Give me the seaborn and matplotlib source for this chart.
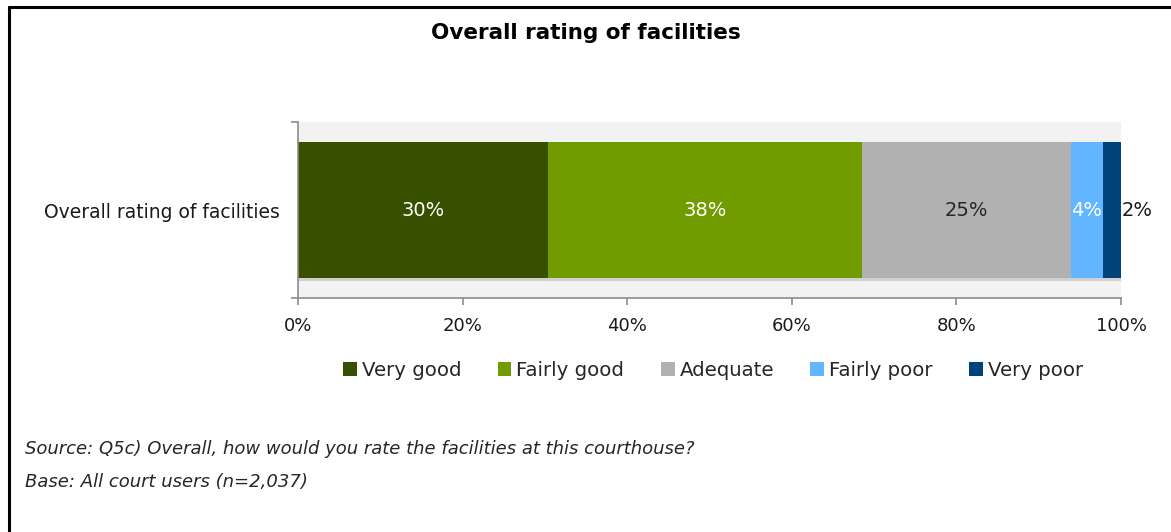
import matplotlib
matplotlib.use("Agg")
import matplotlib.pyplot as plt
import matplotlib.patheffects as pe
from matplotlib.patches import Patch
import numpy as np
import pandas as pd
import seaborn as sns

# Survey results: overall rating of court facilities (% of respondents)
question = "Overall rating of facilities"
categories = ["Very good", "Fairly good", "Adequate", "Fairly poor", "Very poor"]
shares = [30.4, 38.1, 25.4, 3.9, 2.2]
colors = ["#375000", "#729B00", "#B1B1B1", "#62B5FF", "#00427A"]
label_colors = ["white", "white", "#262626", "white", "#1a1a1a"]
xticks = [0, 20, 40, 60, 80, 100]
xticklabels = ["0%", "20%", "40%", "60%", "80%", "100%"]

sns.set_theme(style="white")
plt.rcParams["font.family"] = ["DejaVu Sans"]

fig = plt.figure(figsize=(11.71, 5.32), dpi=100)
ax = fig.add_axes([298 / 1171, 1 - 298 / 532, 823 / 1171, 176 / 532])
ax.set_facecolor("#F2F2F2")

# Stacked bar: draw cumulative totals from longest to shortest so that each
# segment shows through at its own position.
cum = np.cumsum(shares)
for i in range(len(categories) - 1, -1, -1):
    df = pd.DataFrame({"rating": [question], "value": [cum[i]]})
    sns.barplot(data=df, x="value", y="rating", orient="h", color=colors[i],
                saturation=1, width=0.773, ax=ax, linewidth=0)

# soft shadow under the whole bar
shadow = [pe.SimplePatchShadow(offset=(1, -2), shadow_rgbFace="#a8a8a8", alpha=0.45), pe.Normal()]
ax.patches[0].set_path_effects(shadow)

# Segment labels
starts = np.concatenate([[0], cum[:-1]])
for i, (s, v) in enumerate(zip(starts, shares)):
    txt = f"{round(v):.0f}%"
    if i == len(shares) - 1:
        ax.text(cum[i] + 0.1, 0, txt, ha="left", va="center", fontsize=14,
                color=label_colors[i])
    else:
        ax.text(s + v / 2, 0, txt, ha="center", va="center", fontsize=14,
                color=label_colors[i])

ax.set_xlim(0, 100)
ax.set_ylim(0.5, -0.5)
ax.set_xticks(xticks)
ax.set_xticklabels(xticklabels, fontsize=13, color="#1a1a1a")
ax.set_yticks([0])
ax.set_yticklabels([question], fontsize=13.5, color="#1a1a1a")
ax.set_xlabel("")
ax.set_ylabel("")
ax.grid(False)
for side in ["top", "right"]:
    ax.spines[side].set_visible(False)
for side in ["left", "bottom"]:
    ax.spines[side].set_color("#8c8c8c")
    ax.spines[side].set_linewidth(1.2)
ax.tick_params(axis="x", which="both", bottom=True, length=5, width=1.2,
               color="#8c8c8c", pad=9)
ax.tick_params(axis="y", left=False, pad=7)
ax.set_yticks([-0.5, 0.5], minor=True)
ax.tick_params(axis="y", which="minor", left=True, length=5, width=1.2, color="#8c8c8c")

# Title
fig.text(0.5, 1 - 33 / 532, "Overall rating of facilities", ha="center", va="center",
         fontsize=15.5, fontweight="bold", color="black")

# Legend
handles = [Patch(facecolor=c, edgecolor="none") for c in colors]
fig.legend(handles, categories, loc="center", bbox_to_anchor=(713 / 1171, 1 - 370 / 532),
           ncol=5, frameon=False, fontsize=14.2, handlelength=0.7, handleheight=0.7,
           handletextpad=0.25, columnspacing=1.85)

# Footnotes
fig.text(25 / 1171, 1 - 449 / 532,
         "Source: Q5c) Overall, how would you rate the facilities at this courthouse?",
         ha="left", va="center", fontsize=13, style="italic", color="#262626")
fig.text(25 / 1171, 1 - 482 / 532, "Base: All court users (n=2,037)",
         ha="left", va="center", fontsize=13, style="italic", color="#262626")

# Frame around the chart
fig.add_artist(plt.Line2D([8.5 / 1171, 8.5 / 1171], [0, 1 - 6.5 / 532],
                          color="black", linewidth=2.2, transform=fig.transFigure))
fig.add_artist(plt.Line2D([8.5 / 1171, 1.01], [1 - 6.5 / 532, 1 - 6.5 / 532],
                          color="black", linewidth=2.2, transform=fig.transFigure))

fig.savefig("out.png", dpi=100, facecolor="white")
